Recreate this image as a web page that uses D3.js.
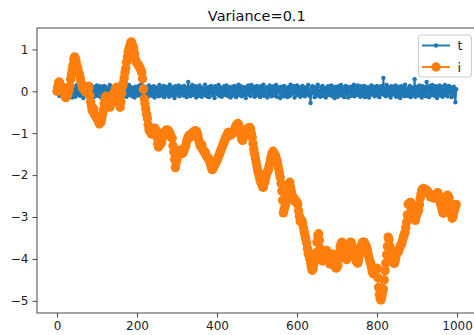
<!DOCTYPE html>
<html>
<head>
<meta charset="utf-8">
<script src="https://cdn.jsdelivr.net/npm/d3@7"></script>
<style>
  body { margin: 0; background: #fff; }
  svg { display: block; font-family: "DejaVu Sans", sans-serif; }
</style>
</head>
<body>
<script>
const step = 2;
const seriesNames = ["t", "i"];
const xTicks = [0, 200, 400, 600, 800, 1000];
const yTicks = [1, 0, -1, -2, -3, -4, -5];

// "t": small noise around zero
const tValues = [
  0.00, -0.06, 0.08, -0.11, 0.04, 0.12, -0.09, 0.02, -0.14, 0.07,
  0.10, -0.03, -0.12, 0.05, 0.14, -0.07, 0.01, -0.10, 0.09, -0.15,
  0.06, 0.11, -0.05, -0.13, 0.03, 0.15, -0.08, 0.07, -0.02, -0.11,
  0.13, -0.04, 0.08, -0.16, 0.02, 0.10, -0.09, 0.12, -0.06, 0.04,
  -0.12, 0.09, 0.16, -0.03, -0.10, 0.05, -0.14, 0.11, 0.01, -0.07,
  0.14, -0.11, 0.06, -0.02, 0.12, -0.15, 0.03, 0.08, -0.09, 0.13,
  -0.05, 0.10, -0.13, 0.04, 0.07, -0.08, 0.15, -0.01, -0.12, 0.09,
  0.02, -0.14, 0.11, -0.06, 0.13, 0.05, -0.10, 0.08, -0.03, -0.16,
  0.12, -0.07, 0.04, 0.14, -0.11, 0.01, 0.09, -0.13, 0.06, -0.04,
  0.15, -0.09, -0.02, 0.10, -0.12, 0.07, 0.03, -0.15, 0.11, -0.06,
  0.08, -0.10, 0.13, -0.03, -0.08, 0.16, -0.12, 0.05, 0.01, -0.14,
  0.11, 0.04, -0.09, 0.07, -0.13, 0.14, -0.05, 0.02, 0.10, -0.11,
  -0.02, 0.12, -0.15, 0.06, 0.09, -0.07, 0.03, -0.12, 0.15, -0.04,
  0.07, -0.10, 0.01, 0.13, -0.14, 0.05, 0.11, -0.08, -0.01, 0.09,
  -0.13, 0.16, -0.06, 0.02, 0.10, -0.11, 0.04, -0.16, 0.12, 0.06,
  -0.08, 0.03, 0.14, -0.12, 0.07, -0.04, 0.11, 0.00, -0.10, 0.13,
  -0.05, 0.09, -0.14, 0.06, 0.22, -0.07, 0.10, -0.12, 0.03, 0.15,
  -0.09, 0.05, -0.02, 0.12, -0.15, 0.08, 0.01, -0.11, 0.14, -0.06,
  0.10, -0.13, 0.04, 0.07, -0.08, 0.16, -0.03, -0.12, 0.09, 0.02,
  -0.14, 0.11, -0.05, 0.13, 0.00, -0.10, 0.06, -0.16, 0.12, -0.02,
  0.08, -0.07, 0.15, -0.11, 0.03, 0.09, -0.13, 0.05, -0.04, 0.12,
  -0.09, 0.02, 0.14, -0.06, -0.12, 0.10, 0.04, -0.15, 0.07, 0.11,
  -0.03, -0.10, 0.13, 0.01, -0.14, 0.08, -0.05, 0.16, -0.09, 0.06,
  0.12, -0.12, 0.03, -0.07, 0.10, 0.05, -0.16, 0.09, -0.01, 0.14,
  -0.08, 0.07, -0.11, 0.15, -0.04, 0.02, 0.11, -0.13, 0.06, -0.10,
  0.13, 0.00, -0.09, 0.08, -0.14, 0.12, -0.06, 0.04, 0.16, -0.11,
  0.05, -0.03, 0.10, -0.15, 0.07, -0.08, 0.14, 0.01, -0.12, 0.09,
  -0.06, 0.12, -0.10, 0.03, 0.15, -0.13, 0.06, -0.02, 0.09, -0.16,
  0.11, -0.05, 0.04, -0.12, 0.13, 0.08, -0.09, 0.02, -0.14, 0.10,
  0.03, -0.11, 0.16, -0.07, 0.05, -0.01, 0.12, -0.15, 0.08, -0.04,
  0.14, -0.09, 0.02, 0.10, -0.13, 0.06, -0.06, 0.13, -0.10, 0.04,
  -0.12, 0.09, 0.05, -0.08, 0.15, -0.02, -0.11, -0.28, 0.07, 0.12,
  -0.05, 0.11, -0.14, 0.03, 0.08, -0.10, 0.16, -0.04, 0.01, -0.13,
  0.10, -0.07, 0.13, -0.11, 0.05, 0.02, -0.15, 0.09, -0.03, 0.12,
  -0.09, 0.06, -0.01, 0.14, -0.12, 0.08, 0.03, -0.16, 0.11, -0.05,
  0.07, -0.13, 0.12, -0.02, -0.08, 0.15, -0.10, 0.04, 0.09, -0.14,
  0.01, 0.13, -0.06, 0.10, -0.15, 0.05, -0.03, 0.11, -0.11, 0.08,
  -0.04, 0.16, -0.12, 0.02, 0.09, -0.09, 0.14, -0.06, 0.03, -0.13,
  0.12, -0.01, -0.10, 0.07, 0.13, -0.14, 0.05, -0.07, 0.10, 0.02,
  -0.15, 0.09, -0.04, 0.14, -0.08, 0.01, 0.11, -0.12, 0.06, -0.02,
  0.13, -0.10, 0.04, -0.14, 0.08, 0.12, -0.06, 0.03, 0.32, -0.09,
  0.07, -0.12, 0.15, -0.03, -0.09, 0.10, 0.02, -0.15, 0.12, -0.05,
  0.09, -0.08, -0.01, 0.14, -0.13, 0.06, 0.11, -0.10, 0.04, -0.16,
  0.12, 0.03, -0.07, 0.10, -0.12, 0.16, -0.04, 0.01, -0.11, 0.08,
  -0.06, 0.13, -0.14, 0.05, 0.09, -0.09, 0.02, 0.29, -0.13, 0.11,
  -0.02, 0.07, -0.10, 0.14, -0.05, 0.04, -0.15, 0.12, 0.06, -0.08,
  0.10, -0.12, 0.22, -0.03, 0.08, -0.14, 0.13, 0.00, -0.09, 0.15,
  -0.07, 0.05, -0.11, 0.12, 0.03, -0.16, 0.09, -0.04, 0.14, -0.10,
  0.06, 0.11, -0.13, 0.02, -0.06, 0.15, -0.09, 0.08, -0.12, 0.04,
  0.13, -0.05, 0.09, -0.14, 0.07, -0.02, 0.11, -0.10, -0.26, 0.05
];

// "i": slow random walk
const iValues = [
  0.00, 0.10, 0.20, 0.22, 0.15, 0.12, 0.08, 0.10, 0.02, -0.06, -0.12, -0.15, -0.08, -0.10, -0.03, 0.02, 0.12, 0.28, 0.40, 0.52, 0.62, 0.75, 0.82, 0.78, 0.70,
  0.60, 0.55, 0.45, 0.40, 0.32, 0.22, 0.15, 0.08, 0.10, 0.04, 0.02, -0.02, 0.04, 0.08, 0.12, 0.08, -0.10, -0.25, -0.35, -0.45, -0.48, -0.42, -0.55, -0.58, -0.62,
  -0.65, -0.68, -0.72, -0.78, -0.75, -0.74, -0.65, -0.55, -0.45, -0.30, -0.18, -0.12, -0.18, -0.22, -0.28, -0.35, -0.38, -0.30, -0.28, -0.18, -0.08, -0.05, 0.00, 0.05, 0.08,
  0.10, -0.05, -0.22, -0.30, -0.38, -0.25, -0.05, 0.12, 0.20, 0.32, 0.45, 0.55, 0.70, 0.82, 0.95, 1.02, 1.08, 1.15, 1.18, 1.12, 1.08, 1.02, 0.90, 0.76, 0.70,
  0.68, 0.64, 0.62, 0.58, 0.55, 0.50, 0.45, 0.30, 0.05, -0.18, -0.30, -0.42, -0.55, -0.65, -0.80, -0.92, -0.95, -0.98, -1.02, -1.00, -0.96, -0.92, -0.88, -0.90, -1.00,
  -1.10, -1.25, -1.33, -1.28, -1.22, -1.25, -1.20, -1.10, -0.98, -1.02, -1.00, -0.95, -0.92, -0.95, -0.93, -0.96, -1.00, -1.05, -1.10, -1.12, -1.30, -1.45, -1.62, -1.82, -1.70,
  -1.62, -1.52, -1.48, -1.42, -1.40, -1.45, -1.42, -1.48, -1.45, -1.38, -1.35, -1.30, -1.20, -1.15, -1.10, -1.05, -1.10, -1.05, -1.02, -1.00, -0.98, -1.02, -0.95, -0.94, -0.96,
  -0.98, -1.05, -1.15, -1.22, -1.30, -1.32, -1.28, -1.38, -1.40, -1.45, -1.45, -1.50, -1.55, -1.58, -1.60, -1.62, -1.68, -1.75, -1.82, -1.87, -1.85, -1.80, -1.76, -1.72, -1.68,
  -1.65, -1.60, -1.55, -1.50, -1.45, -1.40, -1.35, -1.30, -1.25, -1.22, -1.15, -1.10, -1.08, -1.02, -0.98, -0.98, -1.02, -1.05, -1.00, -0.98, -1.00, -0.95, -0.92, -0.86, -0.82,
  -0.80, -0.77, -0.80, -0.85, -0.95, -1.05, -1.15, -1.17, -1.10, -1.05, -1.02, -0.98, -0.93, -0.92, -0.88, -0.88, -0.86, -0.90, -1.00, -1.10, -1.25, -1.38, -1.50, -1.60, -1.70,
  -1.80, -1.90, -1.96, -2.05, -2.12, -2.18, -2.22, -2.28, -2.29, -2.20, -2.15, -2.05, -1.98, -1.92, -1.89, -1.80, -1.72, -1.62, -1.55, -1.48, -1.43, -1.48, -1.55, -1.52, -1.60,
  -1.65, -1.75, -1.85, -1.95, -2.05, -2.20, -2.38, -2.60, -2.90, -2.82, -2.75, -2.68, -2.60, -2.52, -2.35, -2.20, -2.17, -2.30, -2.40, -2.48, -2.58, -2.55, -2.62, -2.60, -2.64,
  -2.65, -2.70, -2.85, -2.98, -3.10, -3.12, -3.08, -3.15, -3.25, -3.35, -3.45, -3.52, -3.62, -3.75, -3.87, -3.92, -4.00, -4.10, -4.20, -4.27, -4.22, -4.12, -4.05, -3.95, -3.85,
  -3.60, -3.45, -3.40, -3.55, -3.75, -3.90, -4.02, -4.05, -3.98, -3.95, -3.92, -3.85, -3.80, -3.90, -4.00, -4.05, -4.12, -4.10, -4.02, -3.88, -3.92, -4.05, -4.15, -4.20, -4.22,
  -4.20, -4.15, -4.00, -3.85, -3.70, -3.65, -3.60, -3.62, -3.68, -3.75, -3.80, -3.92, -4.02, -3.95, -3.80, -3.72, -3.65, -3.60, -3.62, -3.70, -3.80, -3.88, -3.95, -3.98, -4.05,
  -4.08, -4.10, -4.02, -3.92, -3.80, -3.70, -3.65, -3.60, -3.62, -3.60, -3.65, -3.68, -3.72, -3.80, -3.90, -3.98, -4.05, -4.10, -4.20, -4.30, -4.35, -4.32, -4.28, -4.30, -4.25,
  -4.22, -4.45, -4.68, -4.85, -4.95, -4.98, -4.90, -4.80, -4.72, -4.50, -4.28, -4.10, -3.90, -3.70, -3.48, -3.55, -3.70, -3.82, -3.95, -4.05, -4.08, -4.10, -4.10, -4.02, -3.92,
  -3.85, -3.80, -3.82, -3.75, -3.70, -3.66, -3.63, -3.55, -3.48, -3.42, -3.37, -3.25, -3.12, -2.95, -2.70, -2.68, -2.66, -2.65, -2.68, -2.75, -2.82, -2.95, -3.05, -3.08, -2.98,
  -2.92, -2.86, -2.84, -2.70, -2.55, -2.45, -2.36, -2.34, -2.32, -2.38, -2.40, -2.35, -2.36, -2.38, -2.42, -2.45, -2.48, -2.52, -2.50, -2.48, -2.50, -2.55, -2.52, -2.48, -2.45,
  -2.43, -2.42, -2.48, -2.55, -2.65, -2.72, -2.80, -2.88, -2.91, -2.85, -2.72, -2.62, -2.55, -2.48, -2.50, -2.55, -2.68, -2.85, -2.95, -3.03, -3.00, -2.90, -2.82, -2.75, -2.70
];

const colors = { t: "#1f77b4", i: "#ff7f0e" };
const width = 474, height = 335;
const plot = { left: 37, top: 28, right: 476.6, bottom: 313 };

const svg = d3.select("body").append("svg")
    .attr("width", width)
    .attr("height", height);

const x = d3.scaleLinear().domain([-49.95, 1048.95]).range([plot.left, plot.right]);
const y = d3.scaleLinear().domain([-5.29, 1.51]).range([plot.bottom, plot.top]);

const tData = tValues.map((v, k) => ({ x: k * step, y: v }));
const iData = iValues.map((v, k) => ({ x: k * step, y: v }));

const line = d3.line().x(d => x(d.x)).y(d => y(d.y));

svg.append("clipPath").attr("id", "clip")
  .append("rect")
    .attr("x", plot.left).attr("y", plot.top)
    .attr("width", plot.right - plot.left).attr("height", plot.bottom - plot.top);

const g = svg.append("g").attr("clip-path", "url(#clip)");

// blue first, orange on top
g.append("path").datum(tData)
    .attr("d", line)
    .attr("fill", "none")
    .attr("stroke", colors.t)
    .attr("stroke-width", 1.9)
    .attr("stroke-linejoin", "round");
g.append("g").selectAll("circle").data(tData).enter().append("circle")
    .attr("cx", d => x(d.x)).attr("cy", d => y(d.y)).attr("r", 2.2)
    .attr("fill", colors.t);

g.append("path").datum(iData)
    .attr("d", line)
    .attr("fill", "none")
    .attr("stroke", colors.i)
    .attr("stroke-width", 1.9)
    .attr("stroke-linejoin", "round");
g.append("g").selectAll("circle").data(iData).enter().append("circle")
    .attr("cx", d => x(d.x)).attr("cy", d => y(d.y)).attr("r", 4.7)
    .attr("fill", colors.i);

// axes
const xAxis = svg.append("g")
    .attr("transform", `translate(0,${plot.bottom})`)
    .call(d3.axisBottom(x).tickValues(xTicks).tickSize(4.5).tickPadding(4).tickFormat(d3.format("d")));
const yAxis = svg.append("g")
    .attr("transform", `translate(${plot.left},0)`)
    .call(d3.axisLeft(y).tickValues(yTicks).tickSize(4.5).tickPadding(4)
      .tickFormat(d => d < 0 ? "\u2212" + Math.abs(d) : d));

[xAxis, yAxis].forEach(a => {
  a.select(".domain").remove();
  a.selectAll("line").attr("stroke", "#333").attr("stroke-width", 0.9);
  a.selectAll("text").attr("fill", "#222").style("font-size", "12px")
    .style("font-family", "DejaVu Sans, sans-serif");
});
xAxis.selectAll("text").attr("dy", "0.71em");

// spines (right one falls just outside the picture)
svg.append("rect")
    .attr("x", plot.left).attr("y", plot.top)
    .attr("width", plot.right - plot.left).attr("height", plot.bottom - plot.top)
    .attr("fill", "none").attr("stroke", "#333").attr("stroke-width", 0.9);

// title
svg.append("text")
    .attr("x", (plot.left + plot.right) / 2)
    .attr("y", 21)
    .attr("text-anchor", "middle")
    .style("font-size", "14.5px")
    .attr("fill", "#111")
    .text("Variance=0.1");

// legend
const legend = svg.append("g").attr("transform", "translate(418.5,35)");
legend.append("rect")
    .attr("width", 53).attr("height", 42).attr("rx", 3)
    .attr("fill", "#fff").attr("fill-opacity", 0.8)
    .attr("stroke", "#ccc").attr("stroke-width", 1);

const rows = legend.selectAll("g.row").data(seriesNames).enter().append("g")
    .attr("transform", (d, k) => `translate(0,${10.5 + k * 21.5})`);
rows.append("line")
    .attr("x1", 3.5).attr("x2", 31.5)
    .attr("stroke", d => colors[d]).attr("stroke-width", 1.9);
rows.append("circle")
    .attr("cx", 17.5).attr("r", d => d === "t" ? 2.2 : 4.7)
    .attr("fill", d => colors[d]);
rows.append("text")
    .attr("x", 39).attr("dy", "0.35em")
    .style("font-size", "13px")
    .attr("fill", "#222")
    .text(d => d);
</script>
</body>
</html>
